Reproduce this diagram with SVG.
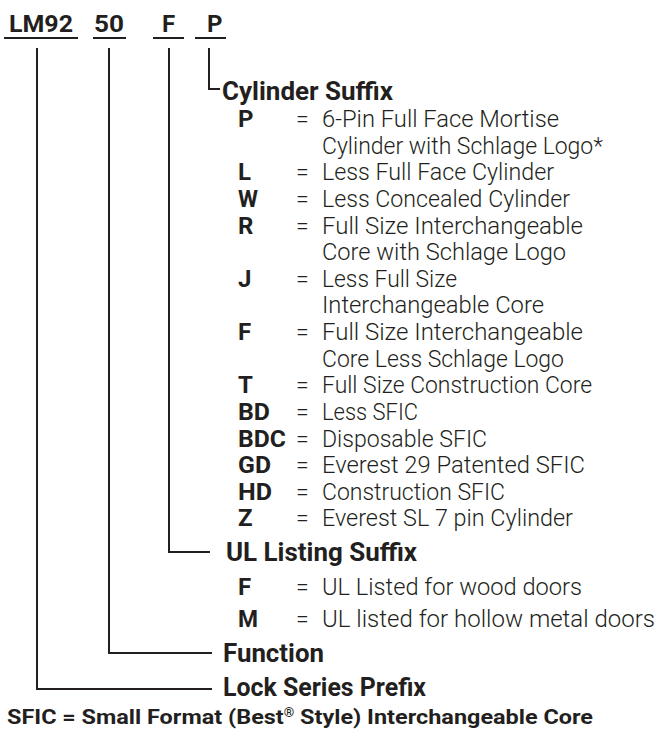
<svg xmlns="http://www.w3.org/2000/svg" width="657" height="730" viewBox="0 0 657 730">
<style>
text{font-family:Roboto,"Open Sans","Liberation Sans",sans-serif;fill:#231f20}
.code{font-size:24px;font-weight:700}
.head{font-size:25px;font-weight:700}
.key{font-size:24px;font-weight:700}
.eq{font-size:23px;font-weight:300}
.desc{font-size:23px;font-weight:300}
.note{font-size:21px;font-weight:700}
.ul{stroke:#231f20;stroke-width:2;fill:none}
.conn{stroke:#231f20;stroke-width:2;fill:none;stroke-linejoin:miter;stroke-linecap:butt}
</style>
<rect width="657" height="730" fill="#ffffff"/>

<g id="code-lm92">
<text class="code" x="9" y="32" textLength="64" lengthAdjust="spacingAndGlyphs">LM92</text>
<line class="ul" x1="4" y1="38" x2="78" y2="38"/>
</g>
<g id="code-50">
<text class="code" x="94" y="32" textLength="30" lengthAdjust="spacingAndGlyphs">50</text>
<line class="ul" x1="93" y1="38" x2="126" y2="38"/>
</g>
<g id="code-f">
<text class="code" x="162" y="32">F</text>
<line class="ul" x1="153" y1="38" x2="184" y2="38"/>
</g>
<g id="code-p">
<text class="code" x="207" y="32">P</text>
<line class="ul" x1="195" y1="38" x2="226" y2="38"/>
</g>

<g id="connectors">
<path class="conn" d="M37 48 V689 H212"/>
<path class="conn" d="M109 48 V653 H212"/>
<path class="conn" d="M169 48 V552 H210"/>
<path class="conn" d="M209 48 V89 H220"/>
</g>

<g id="cylinder-suffix">
<text class="head" x="222" y="100" textLength="171" lengthAdjust="spacingAndGlyphs">Cylinder Suffix</text>
<text class="key" x="238" y="127">P</text><text class="eq" x="296" y="127">=</text>
<text class="desc" x="322" y="127" textLength="237" lengthAdjust="spacingAndGlyphs">6-Pin Full Face Mortise</text>
<text class="desc" x="322" y="153.6" textLength="281" lengthAdjust="spacingAndGlyphs">Cylinder with Schlage Logo*</text>
<text class="key" x="238" y="180.3">L</text><text class="eq" x="296" y="180.3">=</text>
<text class="desc" x="322" y="180.3" textLength="232" lengthAdjust="spacingAndGlyphs">Less Full Face Cylinder</text>
<text class="key" x="238" y="206.9" textLength="20" lengthAdjust="spacingAndGlyphs">W</text><text class="eq" x="296" y="206.9">=</text>
<text class="desc" x="322" y="206.9" textLength="248" lengthAdjust="spacingAndGlyphs">Less Concealed Cylinder</text>
<text class="key" x="238" y="233.5">R</text><text class="eq" x="296" y="233.5">=</text>
<text class="desc" x="322" y="233.5" textLength="261" lengthAdjust="spacingAndGlyphs">Full Size Interchangeable</text>
<text class="desc" x="322" y="260.1" textLength="244" lengthAdjust="spacingAndGlyphs">Core with Schlage Logo</text>
<text class="key" x="238" y="286.8">J</text><text class="eq" x="296" y="286.8">=</text>
<text class="desc" x="322" y="286.8" textLength="135" lengthAdjust="spacingAndGlyphs">Less Full Size</text>
<text class="desc" x="322" y="313.4" textLength="222" lengthAdjust="spacingAndGlyphs">Interchangeable Core</text>
<text class="key" x="238" y="340">F</text><text class="eq" x="296" y="340">=</text>
<text class="desc" x="322" y="340" textLength="261" lengthAdjust="spacingAndGlyphs">Full Size Interchangeable</text>
<text class="desc" x="322" y="366.6" textLength="242" lengthAdjust="spacingAndGlyphs">Core Less Schlage Logo</text>
<text class="key" x="238" y="393.3">T</text><text class="eq" x="296" y="393.3">=</text>
<text class="desc" x="322" y="393.3" textLength="270" lengthAdjust="spacingAndGlyphs">Full Size Construction Core</text>
<text class="key" x="238" y="419.9" textLength="32" lengthAdjust="spacingAndGlyphs">BD</text><text class="eq" x="296" y="419.9">=</text>
<text class="desc" x="322" y="419.9" textLength="96" lengthAdjust="spacingAndGlyphs">Less SFIC</text>
<text class="key" x="238" y="446.5" textLength="48" lengthAdjust="spacingAndGlyphs">BDC</text><text class="eq" x="296" y="446.5">=</text>
<text class="desc" x="322" y="446.5" textLength="165" lengthAdjust="spacingAndGlyphs">Disposable SFIC</text>
<text class="key" x="238" y="473.1" textLength="33" lengthAdjust="spacingAndGlyphs">GD</text><text class="eq" x="296" y="473.1">=</text>
<text class="desc" x="322" y="473.1" textLength="263" lengthAdjust="spacingAndGlyphs">Everest 29 Patented SFIC</text>
<text class="key" x="238" y="499.8" textLength="34" lengthAdjust="spacingAndGlyphs">HD</text><text class="eq" x="296" y="499.8">=</text>
<text class="desc" x="322" y="499.8" textLength="183" lengthAdjust="spacingAndGlyphs">Construction SFIC</text>
<text class="key" x="238" y="526.4">Z</text><text class="eq" x="296" y="526.4">=</text>
<text class="desc" x="322" y="526.4" textLength="251" lengthAdjust="spacingAndGlyphs">Everest SL 7 pin Cylinder</text>
</g>

<g id="ul-listing-suffix">
<text class="head" x="226" y="561" textLength="191" lengthAdjust="spacingAndGlyphs">UL Listing Suffix</text>
<text class="key" x="238" y="595">F</text><text class="eq" x="296" y="595">=</text>
<text class="desc" x="322" y="595" textLength="260" lengthAdjust="spacingAndGlyphs">UL Listed for wood doors</text>
<text class="key" x="238" y="627" textLength="20" lengthAdjust="spacingAndGlyphs">M</text><text class="eq" x="296" y="627">=</text>
<text class="desc" x="322" y="627" textLength="333" lengthAdjust="spacingAndGlyphs">UL listed for hollow metal doors</text>
</g>

<g id="function">
<text class="head" x="223" y="662" textLength="101" lengthAdjust="spacingAndGlyphs">Function</text>
</g>

<g id="lock-series-prefix">
<text class="head" x="223" y="696" textLength="203" lengthAdjust="spacingAndGlyphs">Lock Series Prefix</text>
</g>

<g id="footnote">
<text class="note" x="7" y="724" textLength="586" lengthAdjust="spacingAndGlyphs">SFIC = Small Format (Best<tspan font-size="12" dy="-7">®</tspan><tspan dy="7"> Style) Interchangeable Core</tspan></text>
</g>
</svg>
